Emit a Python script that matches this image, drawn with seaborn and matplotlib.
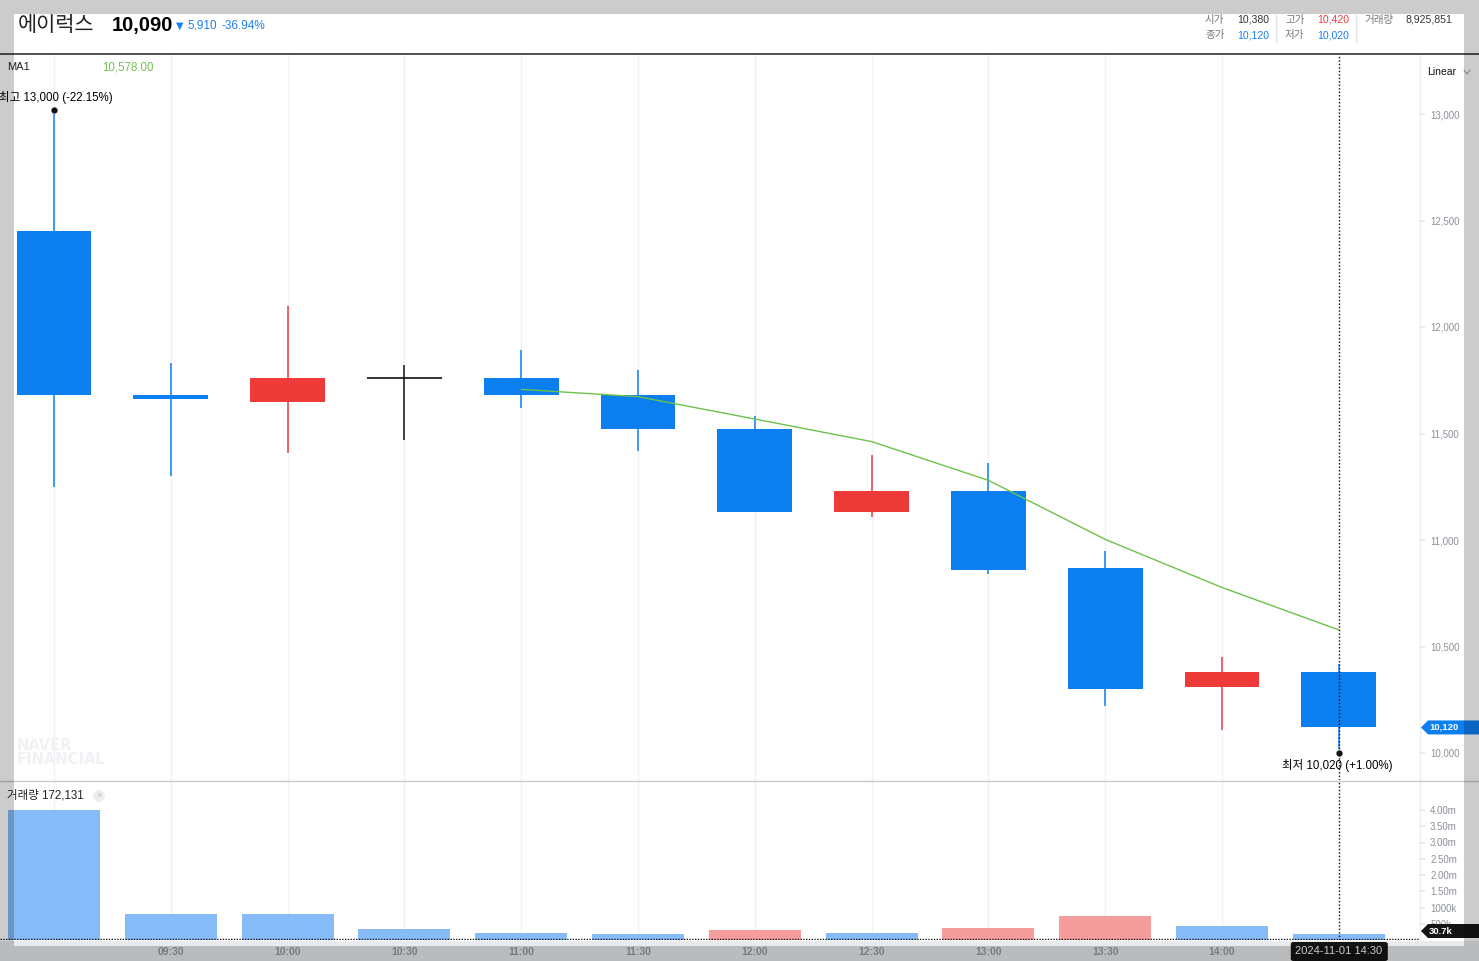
import numpy as np
import pandas as pd
import matplotlib
matplotlib.use("Agg")
import matplotlib.pyplot as plt
import seaborn as sns
from matplotlib.patches import Rectangle, Polygon, FancyBboxPatch
from matplotlib.lines import Line2D
from matplotlib.transforms import offset_copy

# ---------------- data ----------------
times = ["09:00", "09:30", "10:00", "10:30", "11:00", "11:30",
         "12:00", "12:30", "13:00", "13:30", "14:00", "14:30"]
opens = [12450, 11680, 11650, 11760, 11760, 11680, 11520, 11130, 11230, 10870, 10310, 10380]
highs = [13000, 11830, 12100, 11820, 11890, 11800, 11580, 11400, 11360, 10950, 10450, 10420]
lows = [11250, 11300, 11410, 11470, 11620, 11420, 11130, 11110, 10840, 10220, 10110, 10020]
closes = [11680, 11660, 11760, 11760, 11680, 11520, 11130, 11230, 10860, 10300, 10380, 10120]
ma_idx = [4, 5, 6, 7, 8, 9, 10, 11]
ma_vals = [11707, 11673, 11568, 11462, 11280, 11003, 10777, 10578]
volumes = [4000000, 800000, 800000, 350000, 220000, 190000, 320000, 220000,
           380000, 750000, 440000, 172131]
vol_dir = ["down", "down", "down", "down", "down", "down", "up", "down",
           "up", "up", "down", "down"]
price_ticks = [10000, 10500, 11000, 11500, 12000, 12500, 13000]
vol_ticks = [500000, 1000000, 1500000, 2000000, 2500000, 3000000, 3500000, 4000000]
vol_tick_labels = ["500k", "1000k", "1.50m", "2.00m", "2.50m", "3.00m", "3.50m", "4.00m"]
crosshair_vol = 30700
stock_name = "에이럭스"
cur_price = "10,090"
change = "5,910"
change_pct = "-36.94%"
total_volume = "8,925,851"
date_label = "2024-11-01 14:30"

# ---------------- style ----------------
sns.set_theme(style="white")
plt.rcParams['font.family'] = ['Liberation Sans', 'Noto Sans CJK KR', 'DejaVu Sans']

BLUE = "#0b7ef0"
RED = "#ef3a3a"
VBLUE = "#86bbf7"
VRED = "#f59c9d"
GRID = "#f0f2f5"
TICKC = "#8c9199"

W, H = 1479, 961
fig = plt.figure(figsize=(W / 100, H / 100), dpi=100)
fig.patch.set_facecolor("white")


def fx(px):
    return px / W


def fy(py):
    return 1 - py / H


ax_p = fig.add_axes([0, fy(780), 1419 / W, (780 - 55) / H])
ax_v = fig.add_axes([0, fy(940), 1419 / W, (940 - 781) / H])

n = len(times)
xs = np.arange(n)
STEP = 116.8
xlim = (-54 / STEP, (1419 - 54) / STEP)

# ---------------- price panel ----------------
for i in xs:
    ax_p.axvline(i, color=GRID, lw=1, zorder=0)
    ax_v.axvline(i, color=GRID, lw=1, zorder=0)

cols = []
for o, c in zip(opens, closes):
    cols.append(RED if c > o else (BLUE if c < o else "#111111"))

ax_p.vlines(xs, lows, highs, colors=cols, lw=1.1, zorder=2)
bottoms = [min(o, c) for o, c in zip(opens, closes)]
heights = [abs(c - o) for o, c in zip(opens, closes)]
ax_p.bar(xs, heights, bottom=bottoms, width=0.642, color=cols, zorder=3, linewidth=0)
for i, (o, c) in enumerate(zip(opens, closes)):
    if o == c:
        ax_p.hlines(o, i - 0.321, i + 0.321, color="#111111", lw=1.2, zorder=3)

sns.lineplot(x=ma_idx, y=ma_vals, ax=ax_p, color="#6cc24a", lw=1, zorder=4)

ax_p.axvline(n - 1, color="#111111", lw=1, ls=(0, (1, 1.5)), zorder=6)

ax_p.set_xlim(*xlim)
ax_p.set_ylim(10000 - 27 / 0.213, 10000 + 698 / 0.213)
ax_p.set_xlabel("")
ax_p.set_ylabel("")
ax_p.set_xticks([])
ax_p.yaxis.tick_right()
ax_p.set_yticks(price_ticks)
ax_p.set_yticklabels([f"{t:,}" for t in price_ticks])
ax_p.tick_params(axis="y", direction="out", length=4, color="#e6e8eb", pad=4,
                 labelsize=7, labelcolor=TICKC)
for s in ax_p.spines.values():
    s.set_visible(False)

# high / low markers
hi_i = int(np.argmax(highs))
lo_i = int(np.argmin(lows))
last_close = closes[-1]
t_up = offset_copy(ax_p.transData, fig=fig, x=0, y=4, units="dots")
t_dn = offset_copy(ax_p.transData, fig=fig, x=0, y=-4, units="dots")
ax_p.plot(hi_i, highs[hi_i], "o", ms=3.5, color="#111111", transform=t_up, zorder=7)
ax_p.plot(lo_i, lows[lo_i], "o", ms=3.5, color="#111111", transform=t_dn, zorder=7)
hi_pct = (last_close - highs[hi_i]) / highs[hi_i] * 100
lo_pct = (last_close - lows[lo_i]) / lows[lo_i] * 100
t_hi = offset_copy(ax_p.transData, fig=fig, x=2, y=17, units="dots")
t_lo = offset_copy(ax_p.transData, fig=fig, x=-2, y=-17, units="dots")
ax_p.text(hi_i, highs[hi_i], f"최고 {highs[hi_i]:,} ({hi_pct:+.2f}%)", transform=t_hi,
          ha="center", va="center", fontsize=8.3, color="#000000", zorder=8)
ax_p.text(lo_i, lows[lo_i], f"최저 {lows[lo_i]:,} ({lo_pct:+.2f}%)", transform=t_lo,
          ha="center", va="center", fontsize=8.3, color="#000000", zorder=8)

# ---------------- volume panel ----------------
df_v = pd.DataFrame({"idx": xs, "vol": volumes, "dir": vol_dir})
sns.barplot(data=df_v, x="idx", y="vol", hue="dir", palette={"up": VRED, "down": VBLUE},
            native_scale=True, width=0.788, dodge=False, saturation=1, errorbar=None,
            legend=False, ax=ax_v, zorder=2, linewidth=0)
ax_v.axvline(n - 1, color="#111111", lw=1, ls=(0, (1, 1.5)), zorder=6)
ax_v.axhline(crosshair_vol, color="#111111", lw=1, ls=(0, (1, 1)), zorder=6)
ax_v.set_xlim(*xlim)
ax_v.set_ylim(0, (940 - 781) / 32.5 * 1e6)
ax_v.set_xlabel("")
ax_v.set_ylabel("")
ax_v.set_xticks(xs[1:-1])
ax_v.set_xticklabels(times[1:-1])
ax_v.tick_params(axis="x", length=0, pad=5, labelsize=7.5, labelcolor="#979ba2")
for lab in ax_v.get_xticklabels():
    lab.set_fontweight("bold")
ax_v.yaxis.tick_right()
ax_v.set_yticks(vol_ticks)
ax_v.set_yticklabels(vol_tick_labels)
ax_v.tick_params(axis="y", direction="out", length=4, color="#e6e8eb", pad=4,
                 labelsize=7, labelcolor=TICKC)
for s in ax_v.spines.values():
    s.set_visible(False)

# ---------------- figure decorations ----------------
fig.patches.append(Rectangle((0, 0), 1, fy(940.5), transform=fig.transFigure,
                             facecolor="#e9eaed", edgecolor="none", zorder=-1))
fig.lines.append(Line2D([0, 1], [fy(54), fy(54)], transform=fig.transFigure,
                        color="#333333", lw=1.2, zorder=5))
fig.lines.append(Line2D([0, 1], [fy(780.5), fy(780.5)], transform=fig.transFigure,
                        color="#c5c9cf", lw=1, zorder=5))
fig.lines.append(Line2D([fx(1419.5), fx(1419.5)], [fy(55), fy(940)], transform=fig.transFigure,
                        color="#eceef1", lw=1, zorder=1))
for sx in (1276, 1356):
    fig.lines.append(Line2D([fx(sx), fx(sx)], [fy(14), fy(42)], transform=fig.transFigure,
                            color="#e3e3e3", lw=1, zorder=5))

# header texts
fig.text(fx(18), fy(25), stock_name, fontsize=15, color="#222222", va="center", ha="left",
         family=["Noto Sans CJK KR", "DejaVu Sans"])
fig.text(fx(112), fy(26), cur_price, fontsize=14.5, weight="bold", color="#000000",
         va="center", ha="left")
fig.text(fx(176), fy(26), "▼", fontsize=7, color="#1c7ff0", va="center", ha="left",
         family=["DejaVu Sans"])
fig.text(fx(187), fy(26), change, fontsize=8.5, color="#1c7ff0", va="center", ha="left")
fig.text(fx(222), fy(26), change_pct, fontsize=8.5, color="#1c7ff0", va="center", ha="left")

hdr = [
    (1205, 20, "시가", "#777777"), (1237, 20, f"{opens[-1]:,}", "#333333"),
    (1285, 20, "고가", "#777777"), (1317, 20, f"{highs[-1]:,}", "#f03c3c"),
    (1365, 20, "거래량", "#777777"), (1405, 20, total_volume, "#333333"),
    (1205, 35, "종가", "#777777"), (1237, 35, f"{closes[-1]:,}", "#1c7ff0"),
    (1285, 35, "저가", "#777777"), (1317, 35, f"{lows[-1]:,}", "#1c7ff0"),
]
for px, py, s, c in hdr:
    fig.text(fx(px), fy(py), s, fontsize=7.6, color=c, va="center", ha="left")

fig.text(fx(7), fy(67), "MA1", fontsize=8, color="#222222", va="center", ha="left")
fig.text(fx(102), fy(67), f"{ma_vals[-1]:,.2f}", fontsize=8.3, color="#74c057",
         va="center", ha="left")
fig.text(fx(1427), fy(72), "Linear", fontsize=7.5, color="#111111", va="center", ha="left")
fig.lines.append(Line2D([fx(1464), fx(1467), fx(1470)], [fy(70), fy(74), fy(70)],
                        transform=fig.transFigure, color="#aaaaaa", lw=0.8, zorder=5))

# watermark
fig.text(fx(17), fy(745.5), "NAVER", fontsize=10.5, weight="bold", color="#eff1f4",
         va="center", ha="left", family=["DejaVu Sans"], zorder=0.5)
fig.text(fx(17), fy(760), "FINANCIAL", fontsize=10.5, weight="bold", color="#eff1f4",
         va="center", ha="left", family=["DejaVu Sans"], zorder=0.5)

# volume legend
fig.text(fx(7), fy(796), f"거래량 {volumes[-1]:,}", fontsize=8.3, color="#222222",
         va="center", ha="left")
fig.text(fx(99), fy(796), "×", fontsize=6.5, color="#bbbbbb", va="center", ha="center",
         bbox=dict(boxstyle="circle,pad=0.15", facecolor="#eeeeee", edgecolor="none"))


def ypix(ax, v):
    return H - ax.transData.transform((0, v))[1]


yc = ypix(ax_p, closes[-1])
fig.patches.append(Polygon([(fx(1421), fy(yc)), (fx(1428), fy(yc - 7)), (1, fy(yc - 7)),
                            (1, fy(yc + 7)), (fx(1428), fy(yc + 7))], closed=True,
                           transform=fig.transFigure, facecolor=BLUE, edgecolor="none", zorder=12))
fig.text(fx(1429), fy(yc), f"{closes[-1]:,}", fontsize=6.8, weight="bold", color="white",
         va="center", ha="left", zorder=13)

yv = ypix(ax_v, crosshair_vol) - 8
fig.patches.append(Polygon([(fx(1421), fy(yv)), (fx(1428), fy(yv - 7)), (1, fy(yv - 7)),
                            (1, fy(yv + 7)), (fx(1428), fy(yv + 7))], closed=True,
                           transform=fig.transFigure, facecolor="#141414", edgecolor="none", zorder=12))
fig.text(fx(1429), fy(yv), f"{crosshair_vol / 1000:.1f}k", fontsize=6.8, weight="bold",
         color="white", va="center", ha="left", zorder=13)

xd = ax_v.transData.transform((n - 1, 0))[0]
fig.patches.append(FancyBboxPatch((fx(xd - 48), fy(961)), 97 / W, 19 / H,
                                  boxstyle="round,pad=0,rounding_size=0.002",
                                  transform=fig.transFigure, facecolor="#141414",
                                  edgecolor="none", zorder=12))
fig.text(fx(xd), fy(951), date_label, fontsize=8, color="white", va="center",
         ha="center", zorder=13)

for (x0, y0, x1, y1) in [(0, 0, W, 14), (0, 946, W, H), (0, 14, 14, 946), (1464, 14, W, 946)]:
    fig.patches.append(Rectangle((fx(x0), fy(y1)), (x1 - x0) / W, (y1 - y0) / H,
                                 transform=fig.transFigure, facecolor="black", alpha=0.2,
                                 edgecolor="none", zorder=20))

fig.savefig("out.png", dpi=100)
